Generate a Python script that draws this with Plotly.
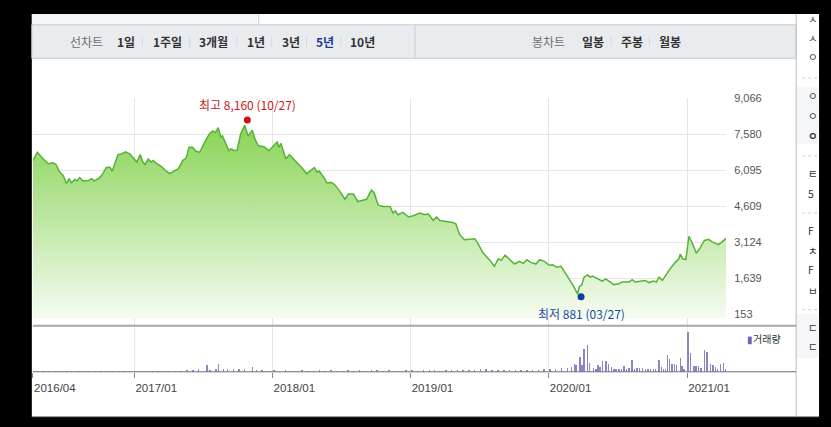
import plotly.graph_objects as go

W, H = 831, 427

# ---------------- data ----------------
price_dates = [
    "2016-04-08", "2016-04-20", "2016-05-05", "2016-05-19", "2016-06-01", "2016-06-08", "2016-06-18", "2016-06-27",
    "2016-07-06", "2016-07-13", "2016-07-19", "2016-07-28", "2016-08-03", "2016-08-10", "2016-08-18", "2016-09-01",
    "2016-09-10", "2016-09-18", "2016-10-02", "2016-10-10", "2016-10-19", "2016-10-28", "2016-11-04", "2016-11-10",
    "2016-11-19", "2016-11-28", "2016-12-09", "2016-12-20", "2016-12-30", "2017-01-08", "2017-01-17", "2017-01-23",
    "2017-01-30", "2017-02-07", "2017-02-14", "2017-02-20", "2017-02-27", "2017-03-13", "2017-03-26", "2017-04-05",
    "2017-04-17", "2017-04-28", "2017-05-09", "2017-05-18", "2017-05-26", "2017-06-04", "2017-06-13", "2017-06-23",
    "2017-07-05", "2017-07-18", "2017-07-27", "2017-08-03", "2017-08-11", "2017-08-18", "2017-08-22", "2017-08-31",
    "2017-09-08", "2017-09-14", "2017-09-24", "2017-09-30", "2017-10-09", "2017-10-20", "2017-10-29", "2017-11-09",
    "2017-11-16", "2017-11-25", "2017-12-10", "2017-12-23", "2018-01-05", "2018-01-14", "2018-01-18", "2018-01-24",
    "2018-01-31", "2018-02-06", "2018-02-15", "2018-03-03", "2018-03-20", "2018-04-02", "2018-04-15", "2018-04-22",
    "2018-04-29", "2018-05-05", "2018-05-16", "2018-05-25", "2018-06-07", "2018-06-16", "2018-06-29", "2018-07-12",
    "2018-07-21", "2018-08-03", "2018-08-15", "2018-08-25", "2018-09-07", "2018-09-20", "2018-09-27", "2018-10-08",
    "2018-10-21", "2018-11-08", "2018-11-16", "2018-11-22", "2018-11-29", "2018-12-12", "2018-12-27", "2019-01-08",
    "2019-01-26", "2019-02-08", "2019-02-17", "2019-03-02", "2019-03-11", "2019-03-20", "2019-04-10", "2019-04-23",
    "2019-05-01", "2019-05-11", "2019-05-24", "2019-06-09", "2019-06-20", "2019-06-28", "2019-07-11", "2019-07-29",
    "2019-08-11", "2019-08-21", "2019-08-29", "2019-09-08", "2019-09-20", "2019-10-03", "2019-10-16", "2019-10-26",
    "2019-11-05", "2019-11-15", "2019-11-29", "2019-12-08", "2019-12-21", "2020-01-03", "2020-01-12", "2020-01-23",
    "2020-02-03", "2020-02-12", "2020-02-25", "2020-03-06", "2020-03-18", "2020-03-22", "2020-03-29", "2020-04-04",
    "2020-04-13", "2020-04-20", "2020-04-26", "2020-05-09", "2020-05-22", "2020-05-31", "2020-06-09", "2020-06-22",
    "2020-07-05", "2020-07-14", "2020-08-01", "2020-08-09", "2020-08-17", "2020-08-31", "2020-09-13", "2020-09-22",
    "2020-10-05", "2020-10-12", "2020-10-19", "2020-10-28", "2020-11-05", "2020-11-17", "2020-12-01", "2020-12-10",
    "2020-12-14", "2020-12-21", "2020-12-29", "2021-01-06", "2021-01-14", "2021-01-26", "2021-02-05", "2021-02-16",
    "2021-02-27", "2021-03-08", "2021-03-16", "2021-03-25", "2021-04-03", "2021-04-14",
]
price_values = [
    6490, 6831, 6559, 6356, 6396, 6327, 6018, 5880,
    5543, 5746, 5572, 5706, 5653, 5787, 5653, 5653,
    5746, 5653, 5787, 5950, 6193, 6222, 6059, 6356,
    6733, 6762, 6843, 6762, 6559, 6425, 6733, 6449,
    6327, 6547, 6425, 6490, 6396, 6246, 6059, 5950,
    6059, 6153, 6490, 6587, 7034, 7034, 6872, 6831,
    7209, 7574, 7708, 7643, 7846, 7440, 7505, 7168,
    6896, 6965, 6896, 6924, 7574, 7940, 7505, 7737,
    7371, 7099, 7058, 6896, 7099, 7262, 7034, 7197,
    6831, 6559, 6733, 6490, 6193, 5950, 6084, 6193,
    6018, 6059, 5815, 5572, 5584, 5474, 5206, 4893,
    5109, 5109, 4800, 4841, 4893, 5271, 5166, 4650,
    4597, 4597, 4325, 4418, 4256, 4353, 4162, 4215,
    4325, 4256, 4296, 4028, 4162, 4020, 3988, 3939,
    3878, 3443, 3228, 3248, 3269, 3086, 2700, 2395,
    2131, 2444, 2375, 2590, 2395, 2225, 2334, 2253,
    2403, 2294, 2225, 2403, 2334, 2172, 2192, 2091,
    2131, 1916, 1615, 1347, 982, 1278, 1372, 1684,
    1778, 1684, 1725, 1615, 1522, 1615, 1510, 1372,
    1412, 1489, 1481, 1583, 1481, 1522, 1542, 1461,
    1522, 1481, 1684, 1550, 1745, 2022, 2294, 2428,
    2631, 2428, 2416, 3370, 3106, 2671, 2903, 3195,
    3240, 3135, 3086, 3025, 3126, 3281,
]

volume_dates = [
    "2016-04-20", "2016-05-05", "2016-05-20", "2016-06-05", "2016-06-20", "2016-07-05", "2016-07-20", "2016-08-05",
    "2016-08-20", "2016-09-05", "2016-09-20", "2016-10-05", "2016-10-20", "2016-11-05", "2016-11-20", "2016-12-05",
    "2016-12-20", "2017-01-05", "2017-01-20", "2017-02-05", "2017-02-20", "2017-03-05", "2017-03-20", "2017-04-05",
    "2017-04-20", "2017-05-05", "2017-05-20", "2017-06-05", "2017-06-20", "2017-07-12", "2017-07-20", "2017-08-05",
    "2017-08-12", "2017-08-25", "2017-09-05", "2017-09-20", "2017-10-05", "2017-10-20", "2017-11-10", "2017-11-20",
    "2017-12-05", "2017-12-20", "2018-01-05", "2018-01-20", "2018-02-05", "2018-02-20", "2018-03-05", "2018-03-20",
    "2018-04-05", "2018-04-20", "2018-05-05", "2018-05-20", "2018-06-05", "2018-06-20", "2018-07-05", "2018-07-20",
    "2018-08-05", "2018-08-20", "2018-09-05", "2018-09-20", "2018-10-05", "2018-10-20", "2018-11-05", "2018-11-20",
    "2018-12-05", "2018-12-20", "2019-01-05", "2019-01-20", "2019-02-05", "2019-02-20", "2019-03-05", "2019-03-20",
    "2019-04-05", "2019-04-20", "2019-05-05", "2019-05-20", "2019-06-05", "2019-06-20", "2019-07-05", "2019-07-20",
    "2019-08-05", "2019-08-20", "2019-09-05", "2019-09-20", "2019-10-05", "2019-10-20", "2019-11-05", "2019-11-20",
    "2019-12-05", "2019-12-20", "2020-01-05", "2020-01-20", "2020-02-05", "2020-02-20", "2020-03-02", "2020-03-09",
    "2020-03-14", "2020-03-24", "2020-03-29", "2020-04-04", "2020-04-13", "2020-04-19", "2020-04-29", "2020-05-05",
    "2020-05-11", "2020-05-16", "2020-05-23", "2020-06-01", "2020-06-07", "2020-06-16", "2020-06-22", "2020-06-27",
    "2020-07-05", "2020-07-11", "2020-07-18", "2020-07-25", "2020-08-01", "2020-08-09", "2020-08-15", "2020-08-22",
    "2020-08-29", "2020-09-05", "2020-09-13", "2020-09-20", "2020-09-27", "2020-10-04", "2020-10-10", "2020-10-19",
    "2020-10-25", "2020-10-30", "2020-11-05", "2020-11-11", "2020-11-16", "2020-11-22", "2020-11-29", "2020-12-04",
    "2020-12-15", "2020-12-19", "2020-12-24", "2021-01-04", "2021-01-10", "2021-01-19", "2021-01-25", "2021-02-01",
    "2021-02-07", "2021-02-17", "2021-02-23", "2021-03-04", "2021-03-11", "2021-03-17", "2021-03-23", "2021-03-30",
    "2021-04-08", "2021-04-13",
]
volume_values = [
    110, 100, 120, 100, 90, 110, 100, 60,
    30, 30, 40, 110, 100, 120, 100, 90,
    40, 30, 30, 110, 30, 30, 60, 100,
    120, 120, 160, 200, 260, 670, 230, 300,
    830, 280, 250, 330, 260, 300, 470, 200,
    150, 130, 150, 130, 140, 120, 130, 150,
    130, 120, 140, 130, 150, 120, 130, 140,
    120, 150, 130, 140, 150, 130, 140, 120,
    130, 150, 140, 130, 150, 140, 160, 130,
    150, 170, 200, 160, 180, 150, 250, 330,
    220, 150, 170, 150, 200, 160, 180, 200,
    170, 270, 270, 330, 430, 430, 500, 770,
    670, 1530, 670, 2330, 2670, 870, 430, 330,
    670, 530, 1100, 1100, 770, 530, 330, 270,
    330, 330, 600, 330, 430, 1200, 330, 430,
    430, 430, 270, 270, 270, 270, 270, 1200,
    530, 330, 300, 1670, 1330, 770, 770, 670,
    1430, 600, 330, 4000, 1870, 600, 600, 600,
    430, 2200, 2000, 770, 670, 530, 330, 770,
    870, 330,
]

price_ticks = [153, 1639, 3124, 4609, 6095, 7580, 9066]
date_ticks = ["2016-04-08", "2017-01-01", "2018-01-01", "2019-01-01", "2020-01-01", "2021-01-01"]
date_tick_labels = ["2016/04", "2017/01", "2018/01", "2019/01", "2020/01", "2021/01"]

high_date, high_value, high_label = "2017-10-27", 8160, "최고 8,160 (10/27)"
low_date, low_value, low_label = "2020-03-27", 881, "최저 881 (03/27)"

period_tabs = ["1일", "1주일", "3개월", "1년", "3년", "5년", "10년"]
period_tab_x = [116, 152, 198, 246, 281, 316, 350]
candle_tabs = ["일봉", "주봉", "월봉"]
candle_tab_x = [583, 622, 660]
# visible fragments of the neighbouring side panel (cut by the window edge)
side_labels = ["ㅅ", "ㅅ", "ㅇ", "ㅇ", "ㅇ", "<b>ㅇ</b>", "ㅌ", "5", "F", "ㅊ", "F", "ㅂ", "ㄷ", "ㄷ"]
side_label_y = [15, 34, 53, 93, 113, 133, 172, 192, 230, 250, 269, 290, 328, 347]

# ---------------- helpers ----------------
def fx(x):
    return x / W


def fy(y):
    return 1 - y / H


KFONT = "Noto Sans CJK KR"
NFONT = "Liberation Sans, Arial, sans-serif"

fig = go.Figure()

# price area
fig.add_trace(go.Scatter(
    x=price_dates, y=price_values, mode="lines",
    line=dict(color="#55b334", width=1.5),
    fill="tozeroy",
    fillgradient=dict(type="vertical",
                      colorscale=[[0, "#f7fcf4"], [1, "#89d457"]],
                      start=0, stop=max(price_values)),
    xaxis="x", yaxis="y", hoverinfo="skip", showlegend=False,
))
# high / low markers
fig.add_trace(go.Scatter(x=[high_date], y=[high_value], mode="markers",
                         marker=dict(color="#d40f14", size=7), xaxis="x", yaxis="y",
                         showlegend=False, hoverinfo="skip"))
fig.add_trace(go.Scatter(x=[low_date], y=[low_value], mode="markers",
                         marker=dict(color="#0c3f9c", size=7), xaxis="x", yaxis="y",
                         showlegend=False, hoverinfo="skip"))
# volume bars
fig.add_trace(go.Bar(x=volume_dates, y=volume_values, xaxis="x2", yaxis="y2",
                     marker=dict(color="#8d84c8", line=dict(width=0)),
                     width=3.6 * 86400000, showlegend=False, hoverinfo="skip"))
# side panel fragments
fig.add_trace(go.Scatter(x=[812] * len(side_labels), y=side_label_y, mode="text",
                         text=side_labels, textposition="middle right",
                         textfont=dict(family=KFONT, size=10.5, color="#333333"),
                         xaxis="x3", yaxis="y3", cliponaxis=True,
                         showlegend=False, hoverinfo="skip"))

xdom = [fx(33), fx(729.5)]
fig.update_layout(
    width=W, height=H,
    margin=dict(l=0, r=0, t=0, b=0),
    paper_bgcolor="#000000", plot_bgcolor="rgba(0,0,0,0)",
    hovermode=False, bargap=0,
    xaxis=dict(domain=xdom, anchor="y", type="date",
               range=[price_dates[0], price_dates[-1]],
               tickvals=date_ticks, showticklabels=False, ticks="",
               showgrid=True, gridcolor="#e6e6e6", gridwidth=1,
               zeroline=False, showline=False, fixedrange=True),
    yaxis=dict(domain=[fy(324.3), fy(93.3)], anchor="x", side="right",
               range=[-318, 9066], tickvals=price_ticks,
               ticktext=[f"{v:,}" for v in price_ticks],
               tickfont=dict(family=NFONT, size=11, color="#555555"),
               ticks="outside", ticklen=5, tickcolor="rgba(0,0,0,0)",
               showgrid=True, gridcolor="#e6e6e6", gridwidth=1,
               zeroline=False, showline=False, fixedrange=True),
    xaxis2=dict(domain=xdom, anchor="y2", type="date", matches="x",
                tickvals=date_ticks, ticktext=date_tick_labels,
                tickfont=dict(family=NFONT, size=11.5, color="#444444"),
                ticks="outside", ticklen=5, tickcolor="#888888", tickwidth=1,
                ticklabelshift=22,
                showgrid=True, gridcolor="#e8e8e8", gridwidth=1,
                zeroline=False, showline=False, fixedrange=True),
    yaxis2=dict(domain=[fy(371), fy(324.3)], anchor="x2",
                range=[0, (371 - 324.3) * 100],
                showgrid=False, showticklabels=False, ticks="",
                zeroline=False, showline=False, fixedrange=True),
    xaxis3=dict(domain=[fx(800.5), fx(823)], anchor="y3", range=[800.5, 823],
                showgrid=False, showticklabels=False, ticks="", zeroline=False, showline=False,
                fixedrange=True),
    yaxis3=dict(domain=[0, 1], anchor="x3", range=[H, 0],
                showgrid=False, showticklabels=False, ticks="", zeroline=False, showline=False,
                fixedrange=True),
)

shapes = []


def rect(x0, y0, x1, y1, fill, line=None, lw=1, layer="below"):
    shapes.append(dict(type="rect", xref="paper", yref="paper",
                       x0=fx(x0), x1=fx(x1), y0=fy(y1), y1=fy(y0),
                       fillcolor=fill, line=dict(color=line or fill, width=lw if line else 0),
                       layer=layer))


def hline(x0, x1, y, color, w=1, dash="solid", layer="below"):
    shapes.append(dict(type="line", xref="paper", yref="paper",
                       x0=fx(x0), x1=fx(x1), y0=fy(y), y1=fy(y),
                       line=dict(color=color, width=w, dash=dash), layer=layer))


def vline(x, y0, y1, color, w=1, layer="below"):
    shapes.append(dict(type="line", xref="paper", yref="paper",
                       x0=fx(x), x1=fx(x), y0=fy(y0), y1=fy(y1),
                       line=dict(color=color, width=w), layer=layer))


# panels
rect(32, 8, 823, 416.5, "#ffffff")
rect(32, 8, 260, 19, "#f6f6f6")
vline(260, 8, 19, "#cccccc")
rect(32, 19, 800, 53, "#e9ecef", line="#c8ccd1")
vline(417, 19, 53, "#c8ccd1")
for sx in [143, 190.5, 238, 273, 308, 342.5, 614, 652.5]:
    vline(sx, 31, 41, "#d3d6da")
# side strip
rect(800, 82, 823, 140, "#f5f6f8")
rect(800, 312, 823, 357, "#f5f6f8")
for yy in [73, 152, 210, 308]:
    hline(806, 823, yy, "#d0d0d0", 1, "dot")
vline(800, 8, 416.5, "#bdbdbd")
hline(32, 823, 416.5, "#9a9a9a")
# chart axis lines
hline(33, 800, 324.3, "#a9a9a9", 2, layer="above")
hline(33, 800, 371, "#6f6f6f", 1, layer="above")

fig.update_layout(shapes=shapes)

ann = []
ann.append(dict(x=high_date, y=high_value, xref="x", yref="y", text=high_label,
                showarrow=False, xanchor="center", yanchor="bottom", yshift=5,
                font=dict(family=KFONT, size=12, color="#c8161d")))
ann.append(dict(x=low_date, y=low_value, xref="x", yref="y", text=low_label,
                showarrow=False, xanchor="center", yanchor="top", yshift=-6,
                font=dict(family=KFONT, size=12, color="#1b4a9c")))
# tab bar texts
ann.append(dict(x=fx(68), y=fy(36), xref="paper", yref="paper", text="선차트",
                showarrow=False, xanchor="left", yanchor="middle",
                font=dict(family=KFONT, size=12, color="#6f6f6f")))
for t, xx in zip(period_tabs, period_tab_x):
    ann.append(dict(x=fx(xx), y=fy(36), xref="paper", yref="paper", text=f"<b>{t}</b>",
                    showarrow=False, xanchor="left", yanchor="middle",
                    font=dict(family=KFONT, size=12,
                              color="#1e3f8e" if t == "5년" else "#333333")))
ann.append(dict(x=fx(533), y=fy(36), xref="paper", yref="paper", text="봉차트",
                showarrow=False, xanchor="left", yanchor="middle",
                font=dict(family=KFONT, size=12, color="#6f6f6f")))
for t, xx in zip(candle_tabs, candle_tab_x):
    ann.append(dict(x=fx(xx), y=fy(36), xref="paper", yref="paper", text=f"<b>{t}</b>",
                    showarrow=False, xanchor="left", yanchor="middle",
                    font=dict(family=KFONT, size=12, color="#333333")))
# volume legend
ann.append(dict(x=fx(749), y=fy(337), xref="paper", yref="paper",
                text="<span style='color:#6d61b3'>▮</span>거래량",
                showarrow=False, xanchor="left", yanchor="middle",
                font=dict(family=KFONT, size=10, color="#333333")))
fig.update_layout(annotations=ann)

fig.write_html("out.html",
               config={"displayModeBar": False, "staticPlot": True},
               post_script="document.body.style.margin='0';document.body.style.overflow='hidden';")
